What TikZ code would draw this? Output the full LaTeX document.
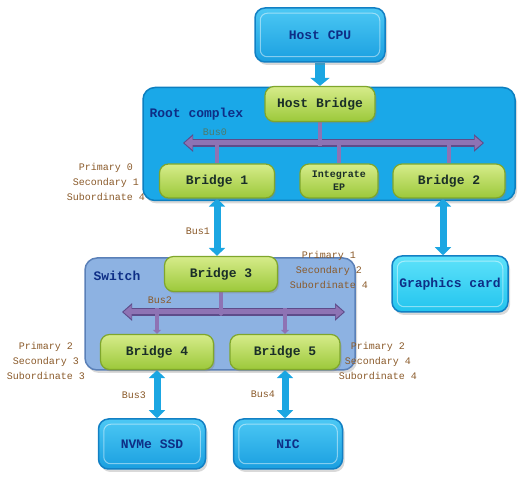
\documentclass[tikz,border=0pt]{standalone}
\usepackage{fontspec}
\setmainfont{Liberation Mono}
\usetikzlibrary{arrows.meta,shadows}
\definecolor{rcfill}{HTML}{1AA8E8}
\definecolor{rcdraw}{HTML}{0C7FC0}
\definecolor{swfill}{HTML}{8DB2E2}
\definecolor{swdraw}{HTML}{5A80B8}
\definecolor{gtop}{HTML}{D6EC8A}
\definecolor{gbot}{HTML}{9CC83A}
\definecolor{gdraw}{HTML}{7FA62C}
\definecolor{btop}{HTML}{4CC8F4}
\definecolor{bbot}{HTML}{1A9FE0}
\definecolor{bdraw}{HTML}{1280C4}
\definecolor{ctop}{HTML}{5EE2FA}
\definecolor{cbot}{HTML}{22C4EE}
\definecolor{busc}{HTML}{8E73B4}
\definecolor{busd}{HTML}{5E4C8A}
\definecolor{arrc}{HTML}{1BA6E2}
\definecolor{lblc}{HTML}{8A5A2A}
\definecolor{navy}{HTML}{0E2E86}
\definecolor{dtext}{HTML}{1A2E28}
\definecolor{buslbl}{HTML}{4E7A6C}
\pgfdeclarelayer{bgzero}
\pgfdeclarelayer{bgone}
\pgfsetlayers{bgzero,bgone,main}
\begin{document}
\begin{tikzpicture}[x=1pt,y=-1pt,
  greenbox/.style={draw=gdraw, line width=1.2pt, rounded corners=9pt,
    top color=gtop, bottom color=gbot, text=dtext, inner sep=0pt,
    font=\bfseries\fontsize{13}{14}\selectfont,
    drop shadow={opacity=0.35, shadow xshift=1.5pt, shadow yshift=-2pt}},
  bluebox/.style={draw=bdraw, line width=1.5pt, rounded corners=10pt,
    top color=btop, bottom color=bbot, text=navy, inner sep=0pt,
    font=\bfseries\fontsize{13}{14}\selectfont,
    drop shadow={opacity=0.3, shadow xshift=2pt, shadow yshift=-3pt}},
  cyanbox/.style={bluebox, top color=ctop, bottom color=cbot},
  container/.style={rounded corners=12pt, line width=1.5pt, inner sep=0pt},
  toplabel/.style={font=\bfseries\fontsize{13}{14}\selectfont, text=navy, anchor=west},
  numlbl/.style={align=center, text=lblc, font=\fontsize{10}{15}\selectfont},
  buslabel/.style={text=lblc, font=\fontsize{10}{12}\selectfont},
  bluearrow/.style={draw=arrc, line width=7pt,
    {Triangle[width=16pt,length=8pt]}-{Triangle[width=16pt,length=8pt]}},
  bluedown/.style={draw=arrc, line width=10pt, -{Triangle[width=19pt,length=8pt]}},
  busunder/.style={draw=busd, line width=8pt,
    {Triangle[width=17pt,length=10pt]}-{Triangle[width=17pt,length=10pt]}},
  busline/.style={draw=busc, line width=5pt,
    {Triangle[width=13pt,length=8pt]}-{Triangle[width=13pt,length=8pt]}},
  busstub/.style={draw=busc, line width=3.5pt},
  busstubarr/.style={draw=busc, line width=3.5pt, -{Triangle[width=8pt,length=4pt]}},
  inner/.style={draw=white, opacity=0.45, line width=1pt, rounded corners=7pt}
]
\useasboundingbox (0,0) rectangle (523,481);

% containers
\begin{pgfonlayer}{bgzero}
\node[container, draw=rcdraw, fill=rcfill, minimum width=372pt, minimum height=113pt,
  drop shadow={opacity=0.3, shadow xshift=2pt, shadow yshift=-3pt}] (rc) at (329,144) {};
\node[container, draw=swdraw, fill=swfill, minimum width=270pt, minimum height=112pt,
  drop shadow={opacity=0.3, shadow xshift=2pt, shadow yshift=-3pt}] (sw) at (220,314) {};
\end{pgfonlayer}

\node[toplabel] (rclbl) at (146,114) {Root complex};
\node[toplabel] (swlbl) at (90,276) {Switch};

% end devices
\node[bluebox, minimum width=130pt, minimum height=54pt] (cpu) at (320,35) {Host CPU};
\node[cyanbox, minimum width=116pt, minimum height=56pt] (gfx) at (450,284) {Graphics card};
\node[bluebox, minimum width=107pt, minimum height=50pt] (nvme) at (152,444) {NVMe SSD};
\node[bluebox, minimum width=109pt, minimum height=50pt] (nic) at (288,444) {NIC};
\draw[inner] ([shift={(6,6)}]cpu.north west) rectangle ([shift={(-6,-6)}]cpu.south east);
\draw[inner] ([shift={(6,6)}]gfx.north west) rectangle ([shift={(-6,-6)}]gfx.south east);
\draw[inner] ([shift={(6,6)}]nvme.north west) rectangle ([shift={(-6,-6)}]nvme.south east);
\draw[inner] ([shift={(6,6)}]nic.north west) rectangle ([shift={(-6,-6)}]nic.south east);

% bridges
\node[greenbox, minimum width=110pt, minimum height=35pt] (hb) at (320,104) {Host Bridge};
\node[greenbox, minimum width=115pt, minimum height=34pt] (br1) at (217,181) {Bridge 1};
\node[greenbox, minimum width=78pt, minimum height=34pt, align=center,
  font=\bfseries\fontsize{10}{13}\selectfont] (iep) at (339,181) {Integrate\\EP};
\node[greenbox, minimum width=112pt, minimum height=34pt] (br2) at (449,181) {Bridge 2};
\node[greenbox, minimum width=113pt, minimum height=35pt] (br3) at (221,274) {Bridge 3};
\node[greenbox, minimum width=113pt, minimum height=35pt] (br4) at (157,352) {Bridge 4};
\node[greenbox, minimum width=110pt, minimum height=35pt] (br5) at (285,352) {Bridge 5};

% bus coordinates
\coordinate (b0l) at (183,143);
\coordinate (b0r) at (484,143);
\coordinate (b2l) at (122,312);
\coordinate (b2r) at (345,312);

% connectors
\begin{pgfonlayer}{bgone}
\draw[bluedown] (cpu.south) -- (hb.north);
\draw[busunder] (b0l) -- (b0r);
\draw[busline] ([xshift=1.5pt]b0l) -- ([xshift=-1.5pt]b0r);
\draw[busstub] (hb.south) -- ([yshift=-3pt]hb.south |- b0l);
\draw[busstub] ([yshift=3pt]br1.north |- b0l) -- (br1.north);
\draw[busstub] ([yshift=3pt]iep.north |- b0l) -- (iep.north);
\draw[busstub] ([yshift=3pt]br2.north |- b0l) -- (br2.north);
\draw[bluearrow] (br1.south) -- (br1.south |- br3.north);
\draw[bluearrow] ([xshift=-6pt]br2.south) -- ([xshift=-6pt]br2.south |- gfx.north);
\draw[busunder] (b2l) -- (b2r);
\draw[busline] ([xshift=1.5pt]b2l) -- ([xshift=-1.5pt]b2r);
\draw[busstubarr] (br3.south) -- ([yshift=-4pt]br3.south |- b2l);
\draw[busstubarr] ([yshift=4pt]br4.north |- b2l) -- (br4.north);
\draw[busstubarr] ([yshift=4pt]br5.north |- b2l) -- (br5.north);
\draw[bluearrow] (br4.south) -- (br4.south |- nvme.north);
\draw[bluearrow] (br5.south) -- (br5.south |- nic.north);
\end{pgfonlayer}

% labels
\node[buslabel, text=buslbl] (l0) at (215,132) {Bus0};
\node[buslabel] (l1) at (198,231) {Bus1};
\node[buslabel] (l2) at (160,300) {Bus2};
\node[buslabel] (l3) at (134,395) {Bus3};
\node[buslabel] (l4) at (263,394) {Bus4};

\node[numlbl] (n1) at (106,182) {Primary 0\\Secondary 1\\Subordinate 4};
\node[numlbl] (n3) at (329,270) {Primary 1\\Secondary 2\\Subordinate 4};
\node[numlbl] (n4) at (46,361) {Primary 2\\Secondary 3\\Subordinate 3};
\node[numlbl] (n5) at (378,361) {Primary 2\\Secondary 4\\Subordinate 4};
\end{tikzpicture}
\end{document}
